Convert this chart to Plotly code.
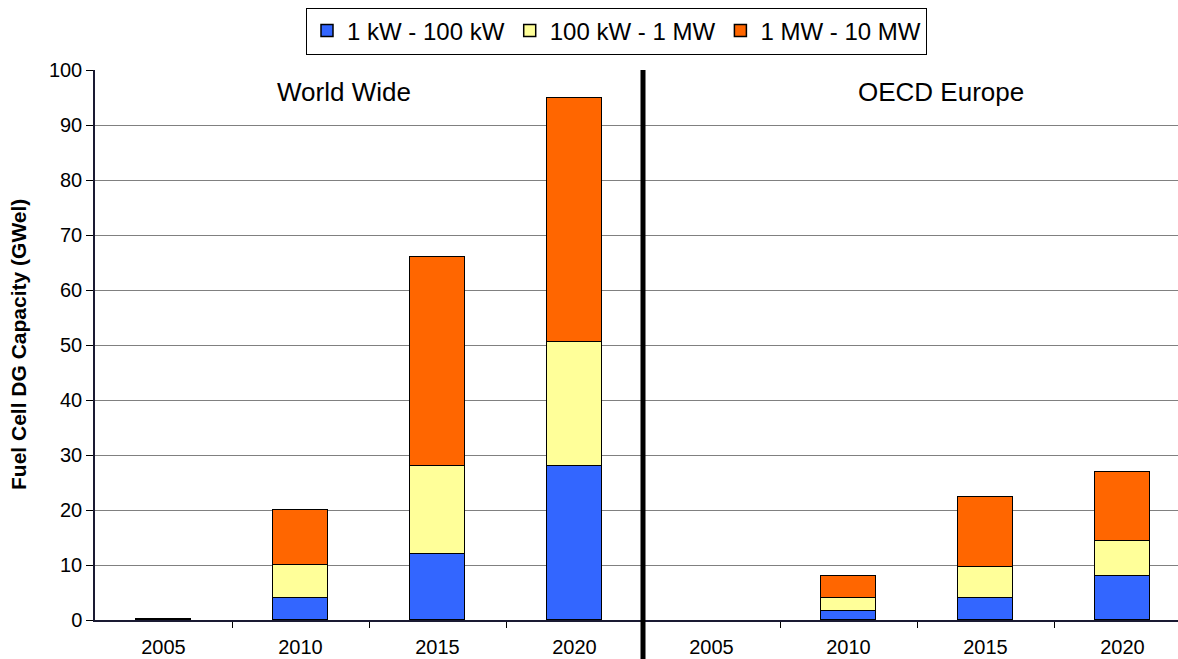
import plotly.graph_objects as go

regions = ["World Wide", "World Wide", "World Wide", "World Wide",
           "OECD Europe", "OECD Europe", "OECD Europe", "OECD Europe"]
years = ["2005", "2010", "2015", "2020", "2005", "2010", "2015", "2020"]
small = [0.1, 4.0, 12.0, 28.0, None, 1.6, 4.05, 8.0]
medium = [0.05, 6.0, 16.0, 22.5, None, 2.4, 5.55, 6.4]
large = [0.05, 10.0, 38.0, 44.5, None, 4.05, 12.8, 12.6]
series_names = ["1 kW - 100 kW", "100 kW - 1 MW", "1 MW - 10 MW"]
colors = ["#3366FF", "#FFFF99", "#FF6600"]
y_title = "Fuel Cell DG Capacity (GWel)"

FONT = "Liberation Sans, Arial, sans-serif"
xpos = list(range(len(years)))

fig = go.Figure()
for name, vals, col in zip(series_names, [small, medium, large], colors):
    fig.add_trace(go.Bar(
        x=xpos, y=vals, name=name, width=0.4,
        marker=dict(color=col, line=dict(color="#000000", width=1.5)),
    ))

W, H = 1178, 659
left, right, top, bottom = 95, 0, 70, 39
slot = 137.0
xmax = -0.5 + (W - left - right) / slot

fig.update_layout(
    width=W, height=H,
    barmode="stack",
    bargap=0,
    plot_bgcolor="white", paper_bgcolor="white",
    margin=dict(l=left, r=right, t=top, b=bottom, autoexpand=False),
    font=dict(family=FONT, size=18, color="#000000"),
    showlegend=True,
    legend=dict(
        orientation="h", xref="container", yref="container",
        x=616.5 / W, xanchor="center", y=1 - 31.0 / H, yanchor="middle",
        bordercolor="#000000", borderwidth=1, bgcolor="white",
        font=dict(family=FONT, size=24, color="#000000"),
        itemwidth=30, traceorder="normal", tracegroupgap=0,
    ),
    xaxis=dict(
        range=[-0.5, xmax], automargin=False,
        tickmode="array", tickvals=xpos, ticktext=years,
        ticks="", showgrid=False, zeroline=False,
        showline=True, linecolor="#1a1a33", linewidth=1.5,
        ticklabelstandoff=8,
        tickfont=dict(family=FONT, size=20, color="#000000"),
        minor=dict(tickmode="array", tickvals=[i + 0.5 for i in xpos],
                   ticks="outside", ticklen=6, tickcolor="#000000", tickwidth=1, showgrid=False),
    ),
    yaxis=dict(
        range=[0, 100], dtick=10, tick0=0, automargin=False,
        ticks="outside", ticklen=7, tickcolor="#000000",
        showgrid=True, gridcolor="#808080", gridwidth=1.3,
        zeroline=False, showline=True, linecolor="#1a1a33", linewidth=1.5,
        tickfont=dict(family=FONT, size=20, color="#000000"),
    ),
)

# y-axis title
fig.add_annotation(x=0, y=0.5, xref="paper", yref="paper", xshift=-77, xanchor="center",
                   text="<b>" + y_title + "</b>", textangle=-90, showarrow=False,
                   font=dict(family=FONT, size=21, color="#000000"))

# section labels
fig.add_annotation(x=1.32, y=96, xref="x", yref="y", text="World Wide",
                   showarrow=False, font=dict(family=FONT, size=26, color="#000000"))
fig.add_annotation(x=5.675, y=96, xref="x", yref="y", text="OECD Europe",
                   showarrow=False, font=dict(family=FONT, size=26, color="#000000"))

# divider between the two groups
fig.add_shape(type="line", xref="x", yref="paper", x0=3.5, x1=3.5, y0=-0.1, y1=1.0,
              line=dict(color="#000000", width=5), layer="above")

fig.write_html("out.html", config={"displayModeBar": False})

# remove the default page margin so the figure sits at the window origin
with open("out.html", "r", encoding="utf-8") as f:
    html = f.read()
html = html.replace("<head>", "<head><style>html,body{margin:0;padding:0;overflow:hidden;}</style>", 1)
with open("out.html", "w", encoding="utf-8") as f:
    f.write(html)
